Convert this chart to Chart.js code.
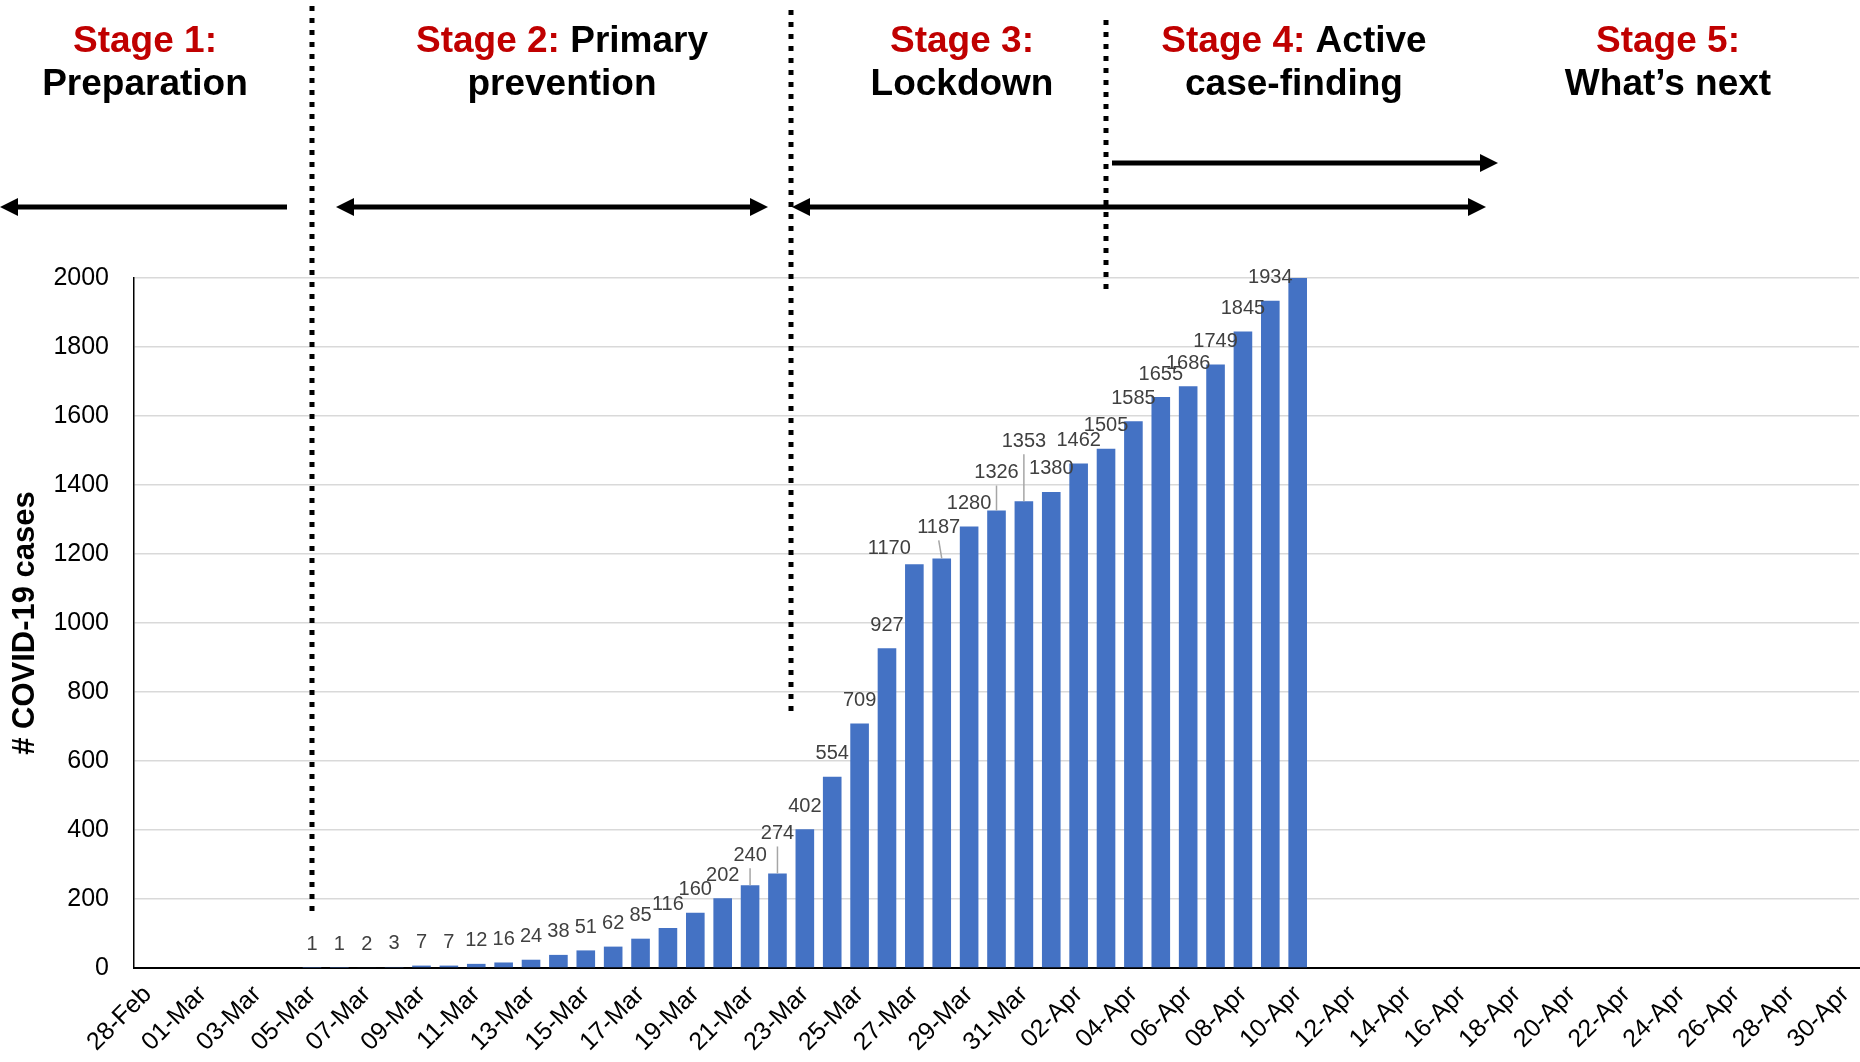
<!DOCTYPE html>
<html>
<head>
<meta charset="utf-8">
<script src="https://cdn.jsdelivr.net/npm/chart.js@4.4.1/dist/chart.umd.min.js"></script>
<style>
  html, body { margin: 0; padding: 0; background: #fff; }
  #cardChart { position: relative; width: 1860px; height: 1062px; }
</style>
</head>
<body>
<div id="cardChart"><canvas id="myChart"></canvas></div>
<script>
const categories = [
	'28-Feb', '29-Feb',
	'01-Mar', '02-Mar', '03-Mar', '04-Mar', '05-Mar', '06-Mar', '07-Mar', '08-Mar', '09-Mar', '10-Mar',
	'11-Mar', '12-Mar', '13-Mar', '14-Mar', '15-Mar', '16-Mar', '17-Mar', '18-Mar', '19-Mar', '20-Mar',
	'21-Mar', '22-Mar', '23-Mar', '24-Mar', '25-Mar', '26-Mar', '27-Mar', '28-Mar', '29-Mar', '30-Mar', '31-Mar',
	'01-Apr', '02-Apr', '03-Apr', '04-Apr', '05-Apr', '06-Apr', '07-Apr', '08-Apr', '09-Apr', '10-Apr',
	'11-Apr', '12-Apr', '13-Apr', '14-Apr', '15-Apr', '16-Apr', '17-Apr', '18-Apr', '19-Apr', '20-Apr',
	'21-Apr', '22-Apr', '23-Apr', '24-Apr', '25-Apr', '26-Apr', '27-Apr', '28-Apr', '29-Apr', '30-Apr'
];

// cumulative cases, 28-Feb .. 30-Apr (blank before first case and after 10-Apr)
const cases = [
	null, null, null, null, null, null,
	1, 1, 2, 3, 7, 7, 12, 16, 24, 38, 51, 62, 85, 116, 160, 202, 240, 274,
	402, 554, 709, 927, 1170, 1187, 1280, 1326, 1353, 1380,
	1462, 1505, 1585, 1655, 1686, 1749, 1845, 1934, 2030,
	null, null, null, null, null, null, null, null, null, null,
	null, null, null, null, null, null, null, null, null, null
];

const yTicks = [0, 200, 400, 600, 800, 1000, 1200, 1400, 1600, 1800, 2000];

const stageTitles = [
	{ red: 'Stage 1:', black: '', second: 'Preparation' },
	{ red: 'Stage 2:', black: ' Primary', second: 'prevention' },
	{ red: 'Stage 3:', black: '', second: 'Lockdown' },
	{ red: 'Stage 4:', black: ' Active', second: 'case-finding' },
	{ red: 'Stage 5:', black: '', second: 'What\u2019s next' }
];

// hand-moved data labels in the original: [dx, dy]
const labelNudge = {
	'21-Mar': [0, -7], '22-Mar': [0, -17], '27-Mar': [-25, 7],
	'28-Mar': [-3, -8], '30-Mar': [0, -15], '31-Mar': [0, -37]
};

const sFont = 'Arial, "Liberation Sans", sans-serif';
Chart.defaults.font.family = sFont;

const stageX = [145, 562, 962, 1294, 1668];
const dottedLines = [
	{ at: 6, top: 6, bottom: 911 },
	{ at: 23.5, top: 10, bottom: 712 },
	{ at: 35, top: 20, bottom: 295 }
];
const arrows = [
	{ x1: 0, x2: 287, y: 207, left: true, right: false },
	{ x1: 336, x2: 768, y: 207, left: true, right: true },
	{ x1: 792, x2: 1486, y: 207, left: true, right: true },
	{ x1: 1112, x2: 1498, y: 163, left: false, right: true }
];

const valueLabels = {
	id: 'valueLabels',
	afterDatasetsDraw: function (chart) {
		const c = chart.ctx;
		const meta = chart.getDatasetMeta(0);
		const yMax = chart.scales.y.max;
		c.save();
		c.font = '20px ' + sFont;
		c.fillStyle = '#404040';
		c.textAlign = 'center';
		c.textBaseline = 'middle';
		meta.data.forEach(function (bar, i) {
			const v = cases[i];
			if (v === null || v > yMax) return;
			const n = labelNudge[categories[i]] || [0, 0];
			const lx = bar.x + n[0];
			const ly = bar.y - 23 + n[1];
			if (n[1] < -5) {
				c.strokeStyle = '#a6a6a6';
				c.lineWidth = 1.5;
				c.beginPath();
				c.moveTo(lx, ly + 13);
				c.lineTo(bar.x, bar.y);
				c.stroke();
			}
			c.fillText(String(v), lx, ly);
		});
		c.restore();
	}
};

const stageOverlay = {
	id: 'stageOverlay',
	afterDraw: function (chart) {
		const c = chart.ctx;
		const x = chart.scales.x;
		c.save();

		// dotted stage separators
		c.strokeStyle = '#000';
		c.lineWidth = 5;
		c.setLineDash([5, 7]);
		dottedLines.forEach(function (d) {
			const px = Math.round(x.getPixelForValue(d.at));
			c.beginPath();
			c.moveTo(px, d.top);
			c.lineTo(px, d.bottom);
			c.stroke();
		});
		c.setLineDash([]);

		// arrows
		c.fillStyle = '#000';
		arrows.forEach(function (a) {
			const head = 18, half = 9;
			const s = a.left ? a.x1 + head - 1 : a.x1;
			const e = a.right ? a.x2 - head + 1 : a.x2;
			c.fillRect(s, a.y - 2.5, e - s, 5);
			if (a.left) {
				c.beginPath();
				c.moveTo(a.x1, a.y);
				c.lineTo(a.x1 + head, a.y - half);
				c.lineTo(a.x1 + head, a.y + half);
				c.closePath();
				c.fill();
			}
			if (a.right) {
				c.beginPath();
				c.moveTo(a.x2, a.y);
				c.lineTo(a.x2 - head, a.y - half);
				c.lineTo(a.x2 - head, a.y + half);
				c.closePath();
				c.fill();
			}
		});

		// stage titles
		c.font = 'bold 37px ' + sFont;
		c.textBaseline = 'alphabetic';
		c.textAlign = 'left';
		stageTitles.forEach(function (t, i) {
			const wr = c.measureText(t.red).width;
			const wb = c.measureText(t.black).width;
			const x0 = stageX[i] - (wr + wb) / 2;
			c.fillStyle = '#C00000';
			c.fillText(t.red, x0, 52);
			c.fillStyle = '#000';
			c.fillText(t.black, x0 + wr, 52);
			const w2 = c.measureText(t.second).width;
			c.fillText(t.second, stageX[i] - w2 / 2, 95);
		});
		c.restore();
	}
};

new Chart(document.getElementById('myChart'), {
	type: 'bar',
	data: {
		labels: categories,
		datasets: [{
			label: 'COVID-19 cases',
			data: cases,
			backgroundColor: '#4472C4',
			borderWidth: 0,
			barPercentage: 0.68,
			categoryPercentage: 1
		}]
	},
	options: {
		responsive: true,
		maintainAspectRatio: false,
		animation: false,
		layout: { padding: { top: 278, right: 1, left: 0, bottom: 0 } },
		plugins: {
			legend: { display: false },
			tooltip: { enabled: false }
		},
		scales: {
			x: {
				grid: { display: false, drawTicks: false },
				border: { color: '#000', width: 2 },
				ticks: {
					autoSkip: false,
					minRotation: 45,
					maxRotation: 45,
					padding: 12,
					color: '#000',
					font: { size: 25 },
					callback: function (v, i) { return i % 2 === 0 ? categories[i] : ''; }
				},
				afterFit: function (s) {
					s.height = 94;
					s.paddingLeft = 0;
					s.paddingRight = 0;
				}
			},
			y: {
				min: yTicks[0],
				max: yTicks[yTicks.length - 1],
				afterBuildTicks: function (s) { s.ticks = yTicks.map(function (v) { return { value: v }; }); },
				ticks: {
					color: '#000',
					font: { size: 25 },
					padding: 25,
					callback: function (v) { return String(v); }
				},
				grid: { color: '#d9d9d9', lineWidth: 1.5, drawTicks: false },
				border: { color: '#000', width: 1.5 },
				title: {
					display: true,
					text: '# COVID-19 cases',
					color: '#000',
					font: { size: 31, weight: 'bold' },
					padding: { top: 7, bottom: 0 }
				},
				afterFit: function (s) {
					s.width = 134;
					s.paddingTop = 0;
					s.paddingBottom = 0;
				}
			}
		}
	},
	plugins: [valueLabels, stageOverlay]
});
</script>
</body>
</html>
